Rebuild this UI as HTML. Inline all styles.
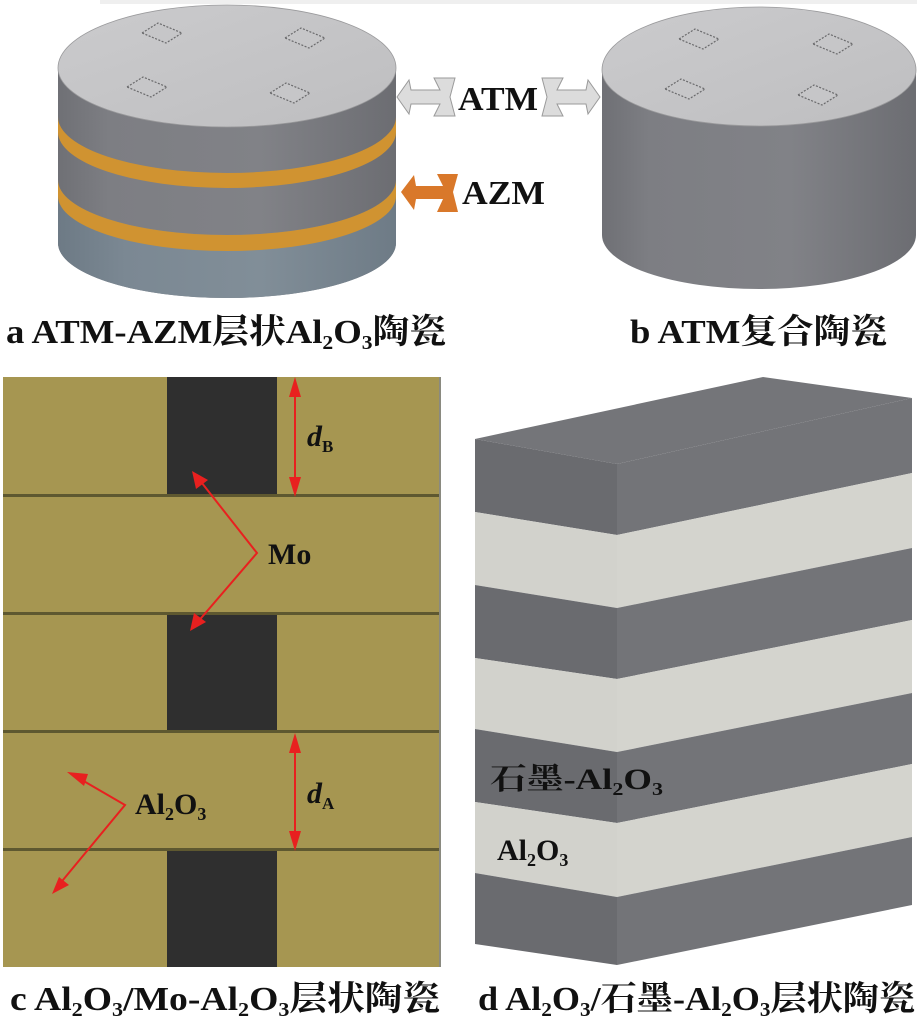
<!DOCTYPE html>
<html><head><meta charset="utf-8"><style>html,body{margin:0;padding:0;background:#fff}svg{display:block}</style></head>
<body>
<svg width="917" height="1021" viewBox="0 0 917 1021" xmlns="http://www.w3.org/2000/svg" font-family="'Liberation Serif','Noto Serif CJK SC',serif">
<defs>
<linearGradient id="side" x1="0" x2="1" y1="0" y2="0">
<stop offset="0" stop-color="#6f7075"/><stop offset="0.15" stop-color="#7d7e83"/><stop offset="0.6" stop-color="#818287"/><stop offset="1" stop-color="#6c6d72"/></linearGradient>
<linearGradient id="sideb" x1="0" x2="1" y1="0" y2="0">
<stop offset="0" stop-color="#6d7a85"/><stop offset="0.2" stop-color="#7b8893"/><stop offset="0.6" stop-color="#818e98"/><stop offset="1" stop-color="#6e7b86"/></linearGradient>
<linearGradient id="top" x1="0" x2="1" y1="0" y2="1"><stop offset="0" stop-color="#cbcbcd"/><stop offset="1" stop-color="#bebec0"/></linearGradient>
</defs>
<rect width="917" height="1021" fill="#fff"/>
<rect x="100" y="0" width="817" height="4" fill="#efefef"/>

<!-- Cylinder a -->
<path d="M58,68 L58,243 A169,55 0 0 0 396,243 L396,68 Z" fill="url(#side)"/>
<path d="M58,180 A169,55 0 0 0 396,180 L396,243 A169,55 0 0 1 58,243 Z" fill="url(#sideb)"/>
<path d="M58,117 A169,56 0 0 0 396,117 L396,132 A169,56 0 0 1 58,132 Z" fill="#d09331"/>
<path d="M58,180 A169,55 0 0 0 396,180 L396,196 A169,55 0 0 1 58,196 Z" fill="#d09331"/>
<path d="M58,68 A169,63 0 0 1 396,68 A169,59 0 0 1 58,68 Z" fill="url(#top)" stroke="#9a9a9c" stroke-width="0.8"/>
<g fill="#c6c6c8" stroke="#6a6a6c" stroke-width="1.2" stroke-dasharray="2,1.5">
<polygon points="142,33 158,23 182,33 166,43"/>
<polygon points="285,38 301,28 325,38 309,48"/>
<polygon points="127,87 143,77 167,87 151,97"/>
<polygon points="270,93 286,83 310,93 294,103"/>
</g>

<!-- Cylinder b -->
<path d="M602,70 L602,235 A157,54 0 0 0 916,235 L916,70 Z" fill="url(#side)"/>
<path d="M602,70 A157,63 0 0 1 916,70 A157,56 0 0 1 602,70 Z" fill="url(#top)" stroke="#9a9a9c" stroke-width="0.8"/>
<g fill="#c6c6c8" stroke="#6a6a6c" stroke-width="1.2" stroke-dasharray="2,1.5">
<polygon points="679,39 695,29 719,39 703,49"/>
<polygon points="813,44 829,34 853,44 837,54"/>
<polygon points="665,89 681,79 705,89 689,99"/>
<polygon points="798,95 814,85 838,95 822,105"/>
</g>

<!-- ATM arrows -->
<polygon points="397,97 409,80 411,90 440,90 434,78 455,78 450,97 455,116 434,116 440,104 411,104 409,114" fill="#dcdcdc" stroke="#9a9a9a" stroke-width="1"/>
<polygon points="600,97 588,80 586,90 557,90 563,78 542,78 547,97 542,116 563,116 557,104 586,104 588,114" fill="#dcdcdc" stroke="#9a9a9a" stroke-width="1"/>
<text x="458" y="110" font-size="34" font-weight="bold" fill="#111" textLength="80" lengthAdjust="spacingAndGlyphs">ATM</text>
<polygon points="401,192 414,175 416,186 443,186 437,174 458,174 453,192 458,212 437,212 443,199 416,199 414,210" fill="#d9782a"/>
<text x="462" y="204" font-size="34" font-weight="bold" fill="#111" textLength="83" lengthAdjust="spacingAndGlyphs">AZM</text>

<!-- captions a b -->
<text x="6" y="343" font-size="34" font-weight="bold" fill="#111" textLength="440" lengthAdjust="spacingAndGlyphs">a ATM-AZM层状Al<tspan font-size="20" dy="6">2</tspan><tspan dy="-6">O</tspan><tspan font-size="20" dy="6">3</tspan><tspan dy="-6">陶瓷</tspan></text>
<text x="630" y="343" font-size="34" font-weight="bold" fill="#111" textLength="257" lengthAdjust="spacingAndGlyphs">b ATM复合陶瓷</text>

<!-- Panel c -->
<rect x="3" y="377" width="437" height="590" fill="#a69651"/>
<rect x="167" y="377" width="110" height="118" fill="#2f2f2f"/>
<rect x="167" y="613" width="110" height="118" fill="#2f2f2f"/>
<rect x="167" y="849" width="110" height="118" fill="#2f2f2f"/>
<g fill="#5e5830">
<rect x="3" y="494" width="437" height="3"/>
<rect x="3" y="612" width="437" height="3"/>
<rect x="3" y="730" width="437" height="3"/>
<rect x="3" y="848" width="437" height="3"/>
</g>
<rect x="439" y="377" width="2" height="590" fill="#8a8a80"/>
<g stroke="#e8201f" stroke-width="2" fill="none">
<line x1="295" y1="386" x2="295" y2="488"/>
<line x1="295" y1="744" x2="295" y2="842"/>
<polyline points="198,478 257,553 196,624"/>
<polyline points="75,776 125,805 58,886"/>
</g>
<g fill="#e8201f">
<polygon points="295,377 289,397 301,397"/>
<polygon points="295,497 289,477 301,477"/>
<polygon points="295,733 289,753 301,753"/>
<polygon points="295,851 289,831 301,831"/>
<polygon points="192,471 196,489 208,480"/>
<polygon points="190,631 194,613 206,622"/>
<polygon points="67,772 84,786 88,774"/>
<polygon points="52,894 59,877 69,885"/>
</g>
<text x="307" y="446" font-size="30" font-weight="bold" font-style="italic" fill="#111">d<tspan font-size="17" font-style="normal" dy="6">B</tspan></text>
<text x="268" y="564" font-size="30" font-weight="bold" fill="#111">Mo</text>
<text x="135" y="814" font-size="30" font-weight="bold" fill="#111">Al<tspan font-size="18" dy="6">2</tspan><tspan dy="-6">O</tspan><tspan font-size="18" dy="6">3</tspan></text>
<text x="307" y="803" font-size="30" font-weight="bold" font-style="italic" fill="#111">d<tspan font-size="17" font-style="normal" dy="6">A</tspan></text>

<!-- Panel d -->
<polygon points="475,439 763,377 912,398 617,464" fill="#747579"/>
<polygon points="475,439 617,464 617,535 475,512" fill="#6a6b6f"/>
<polygon points="475,512 617,535 617,608 475,585" fill="#d2d2cc"/>
<polygon points="475,585 617,608 617,679 475,658" fill="#6a6b6f"/>
<polygon points="475,658 617,679 617,752 475,729" fill="#d2d2cc"/>
<polygon points="475,729 617,752 617,823 475,802" fill="#6a6b6f"/>
<polygon points="475,802 617,823 617,897 475,873" fill="#d2d2cc"/>
<polygon points="475,873 617,897 617,965 475,944" fill="#6a6b6f"/>
<polygon points="617,464 912,398 912,473 617,535" fill="#737478"/>
<polygon points="617,535 912,473 912,548 617,608" fill="#d4d4ce"/>
<polygon points="617,608 912,548 912,620 617,679" fill="#737478"/>
<polygon points="617,679 912,620 912,693 617,752" fill="#d4d4ce"/>
<polygon points="617,752 912,693 912,764 617,823" fill="#737478"/>
<polygon points="617,823 912,764 912,837 617,897" fill="#d4d4ce"/>
<polygon points="617,897 912,837 912,905 617,965" fill="#737478"/>
<text x="490" y="789" font-size="30" font-weight="bold" fill="#111" textLength="173" lengthAdjust="spacingAndGlyphs">石墨-Al<tspan font-size="18" dy="6">2</tspan><tspan dy="-6">O</tspan><tspan font-size="18" dy="6">3</tspan></text>
<text x="497" y="860" font-size="30" font-weight="bold" fill="#111">Al<tspan font-size="18" dy="6">2</tspan><tspan dy="-6">O</tspan><tspan font-size="18" dy="6">3</tspan></text>

<!-- captions c d -->
<text x="10" y="1010" font-size="34" font-weight="bold" fill="#111" textLength="430" lengthAdjust="spacingAndGlyphs">c Al<tspan font-size="20" dy="6">2</tspan><tspan dy="-6">O</tspan><tspan font-size="20" dy="6">3</tspan><tspan dy="-6">/Mo-Al</tspan><tspan font-size="20" dy="6">2</tspan><tspan dy="-6">O</tspan><tspan font-size="20" dy="6">3</tspan><tspan dy="-6">层状陶瓷</tspan></text>
<text x="478" y="1010" font-size="34" font-weight="bold" fill="#111" textLength="437" lengthAdjust="spacingAndGlyphs">d Al<tspan font-size="20" dy="6">2</tspan><tspan dy="-6">O</tspan><tspan font-size="20" dy="6">3</tspan><tspan dy="-6">/石墨-Al</tspan><tspan font-size="20" dy="6">2</tspan><tspan dy="-6">O</tspan><tspan font-size="20" dy="6">3</tspan><tspan dy="-6">层状陶瓷</tspan></text>
</svg>
</body></html>
